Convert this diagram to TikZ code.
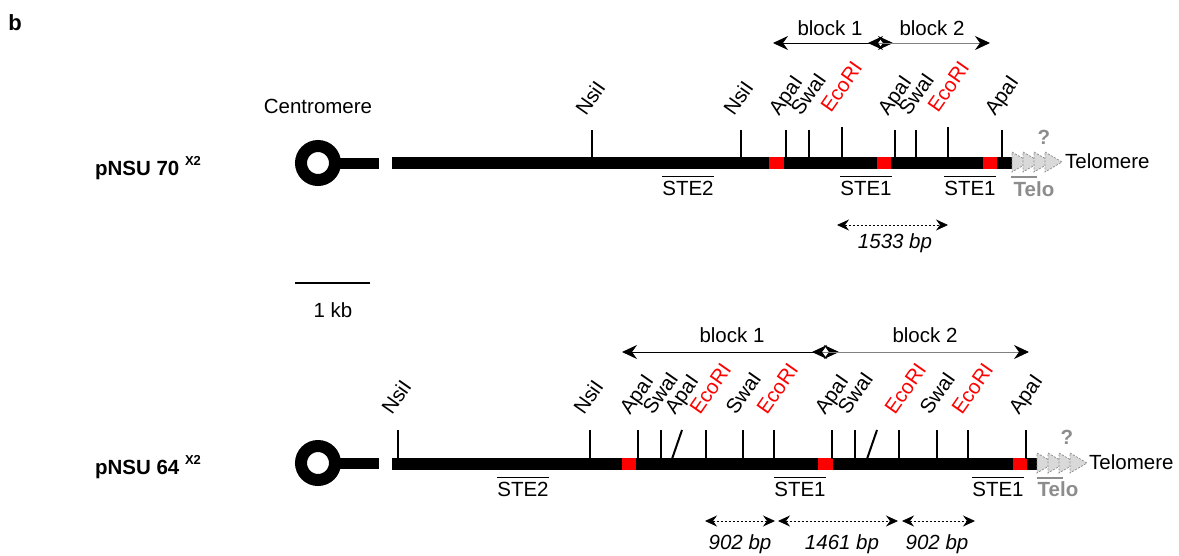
\documentclass[tikz,border=0pt]{standalone}
\usepackage{fontspec}
\setmainfont{Liberation Sans}
\usetikzlibrary{arrows.meta}
\definecolor{telofill}{HTML}{D9D9D9}
\definecolor{telogray}{HTML}{8C8C8C}
\begin{document}
\begin{tikzpicture}[x=1pt,y=-1pt,
  every node/.style={font=\fontsize{20.5}{24}\selectfont, inner sep=0pt},
  chrom/.style={line width=12pt},
  stub/.style={line width=11pt},
  cut/.style={line width=2pt},
  site/.style={rotate=55, anchor=base west},
  eco/.style={site, text=red},
  redbox/.style={fill=red},
  blockarrow/.style={line width=1pt, {Stealth[length=15pt,width=14pt,inset=5pt]}-{Stealth[length=15pt,width=14pt,inset=5pt]}},
  greyblock/.style={line width=1pt, draw=gray, {Stealth[length=15pt,width=14pt,inset=5pt,color=black]}-{Stealth[length=15pt,width=14pt,inset=5pt,color=black]}},
  bparrow/.style={line width=0.8pt, dash pattern=on 2.5pt off 1.5pt, {Stealth[length=12pt,width=11pt,inset=4pt]}-{Stealth[length=12pt,width=11pt,inset=4pt]}},
  ovl/.style={line width=1.2pt},
  telotri/.style={fill=telofill, draw=telogray, dash pattern=on 2pt off 1.5pt, line width=0.7pt},
  gray text/.style={text=telogray, font=\fontsize{20.5}{24}\selectfont\bfseries},
]
\useasboundingbox (0,0) rectangle (1179,555);

% panel letter
\node[font=\fontsize{22}{26}\selectfont\bfseries] (b) at (15,23) {b};

% ================= pNSU 70 =================
\node[font=\fontsize{20.5}{24}\selectfont\bfseries] (n70) at (148,168) {pNSU 70 \raisebox{0.45em}{\fontsize{13}{15}\selectfont X2}};
\node (cen) at (318,106) {Centromere};
\draw[line width=12pt] (318,163) circle (17pt);
\draw[stub] (335,163) -- (379,163);
\draw[chrom] (392,163) -- (1012,163);
\foreach \a/\b in {769/784, 877/891, 983/997}
  \fill[redbox] (\a,157) rectangle (\b,169);
% cut sites
\foreach \x in {592,741,786,809,895,916,1002}
  \draw[cut] (\x,130) -- (\x,158);
\foreach \x in {842,948}
  \draw[cut] (\x,127) -- (\x,158);
\node[site] (t1) at (586,117) {NsiI};
\node[site] (t2) at (734,117) {NsiI};
\node[site] (t3) at (779,117) {ApaI};
\node[site] (t4) at (801,117) {SwaI};
\node[eco]  (t5) at (831,114) {EcoRI};
\node[site] (t6) at (888,117) {ApaI};
\node[site] (t7) at (909,117) {SwaI};
\node[eco]  (t8) at (938,114) {EcoRI};
\node[site] (t9) at (995,117) {ApaI};
% blocks
\coordinate (b1l) at (773,43); \coordinate (b1r) at (893,43);
\coordinate (b2l) at (868,43); \coordinate (b2r) at (990,43);
\draw[blockarrow] (b1l) -- (b1r);
\draw[greyblock] (b2l) -- (b2r);
\node (bl1) at (830,28) {block 1};
\node (bl2) at (932,28) {block 2};
% STE
\node (ste2a) at (688,188) {STE2};
\node (ste1a) at (866,188) {STE1};
\node (ste1b) at (970,188) {STE1};
\foreach \n in {ste2a,ste1a,ste1b}
  \draw[ovl] ([yshift=4pt]\n.north west) -- ([yshift=4pt]\n.north east);
% telomere
\foreach \s in {0,11,22,33}
  \draw[telotri] (1012+\s,152) -- (1029+\s,162) -- (1012+\s,172) -- cycle;
\node[gray text] (q1) at (1044,137) {?};
\node[anchor=west] (tel1) at (1065,161) {Telomere};
\node[gray text] (telo1) at (1034,189) {Telo};
\draw[telogray, line width=1.5pt] (1011,177) -- (1037,177);
% 1533 bp
\coordinate (d1l) at (837,225); \coordinate (d1r) at (948,225);
\draw[bparrow] (d1l) -- (d1r);
\node[font=\fontsize{20.5}{24}\selectfont\itshape] (bp1) at (895,243) {1533 bp};

% scale bar
\coordinate (sb1) at (295,283); \coordinate (sb2) at (370,283);
\draw[line width=2pt] (sb1) -- (sb2);
\node (kb) at (333,310) {1 kb};

% ================= pNSU 64 =================
\node[font=\fontsize{20.5}{24}\selectfont\bfseries] (n64) at (148,467) {pNSU 64 \raisebox{0.45em}{\fontsize{13}{15}\selectfont X2}};
\draw[line width=12pt] (318,463) circle (17pt);
\draw[stub] (335,463) -- (379,463);
\draw[chrom] (392,464) -- (1037,464);
\foreach \a/\b in {622/636, 818/833, 1013/1027}
  \fill[redbox] (\a,458) rectangle (\b,470);
\foreach \x in {398,590,638,661,706,743,774,832,855,899,937,968,1026}
  \draw[cut] (\x,430) -- (\x,459);
\draw[cut] (682,430) -- (672,459);
\draw[cut] (877,430) -- (867,459);
\node[site] (u1) at (392,416) {NsiI};
\node[site] (u2) at (584,416) {NsiI};
\node[site] (u3) at (630,416) {ApaI};
\node[site] (u4) at (653,416) {SwaI};
\node[site] (u5) at (675,416) {ApaI};
\node[eco]  (u6) at (700,416) {EcoRI};
\node[site] (u7) at (736,416) {SwaI};
\node[eco]  (u8) at (767,416) {EcoRI};
\node[site] (u9) at (825,416) {ApaI};
\node[site] (u10) at (848,416) {SwaI};
\node[eco]  (u11) at (895,416) {EcoRI};
\node[site] (u12) at (930,416) {SwaI};
\node[eco]  (u13) at (962,416) {EcoRI};
\node[site] (u14) at (1019,416) {ApaI};
% blocks
\coordinate (c1l) at (622,352); \coordinate (c1r) at (839,352);
\coordinate (c2l) at (812,352); \coordinate (c2r) at (1029,352);
\draw[blockarrow] (c1l) -- (c1r);
\draw[greyblock] (c2l) -- (c2r);
\node (cl1) at (732,335) {block 1};
\node (cl2) at (925,335) {block 2};
% STE
\node (ste2c) at (523,489) {STE2};
\node (ste1c) at (800,489) {STE1};
\node (ste1d) at (998,489) {STE1};
\foreach \n in {ste2c,ste1c,ste1d}
  \draw[ovl] ([yshift=4pt]\n.north west) -- ([yshift=4pt]\n.north east);
% telomere
\foreach \s in {0,11,22,33}
  \draw[telotri] (1037+\s,453) -- (1054+\s,463) -- (1037+\s,473) -- cycle;
\node[gray text] (q2) at (1067,437) {?};
\node[anchor=west] (tel2) at (1089,462) {Telomere};
\node[gray text] (telo2) at (1058,489) {Telo};
\draw[telogray, line width=1.5pt] (1037,478) -- (1063,478);
% bp arrows
\coordinate (e1) at (705,521); \coordinate (e2) at (775,521);
\coordinate (e3) at (778,521); \coordinate (e4) at (898,521);
\coordinate (e5) at (902,521); \coordinate (e6) at (975,521);
\draw[bparrow] (e1) -- (e2);
\draw[bparrow] (e3) -- (e4);
\draw[bparrow] (e5) -- (e6);
\node[font=\fontsize{20.5}{24}\selectfont\itshape] (bp2) at (740,544) {902 bp};
\node[font=\fontsize{20.5}{24}\selectfont\itshape] (bp3) at (842,544) {1461 bp};
\node[font=\fontsize{20.5}{24}\selectfont\itshape] (bp4) at (937,544) {902 bp};
\end{tikzpicture}
\end{document}
